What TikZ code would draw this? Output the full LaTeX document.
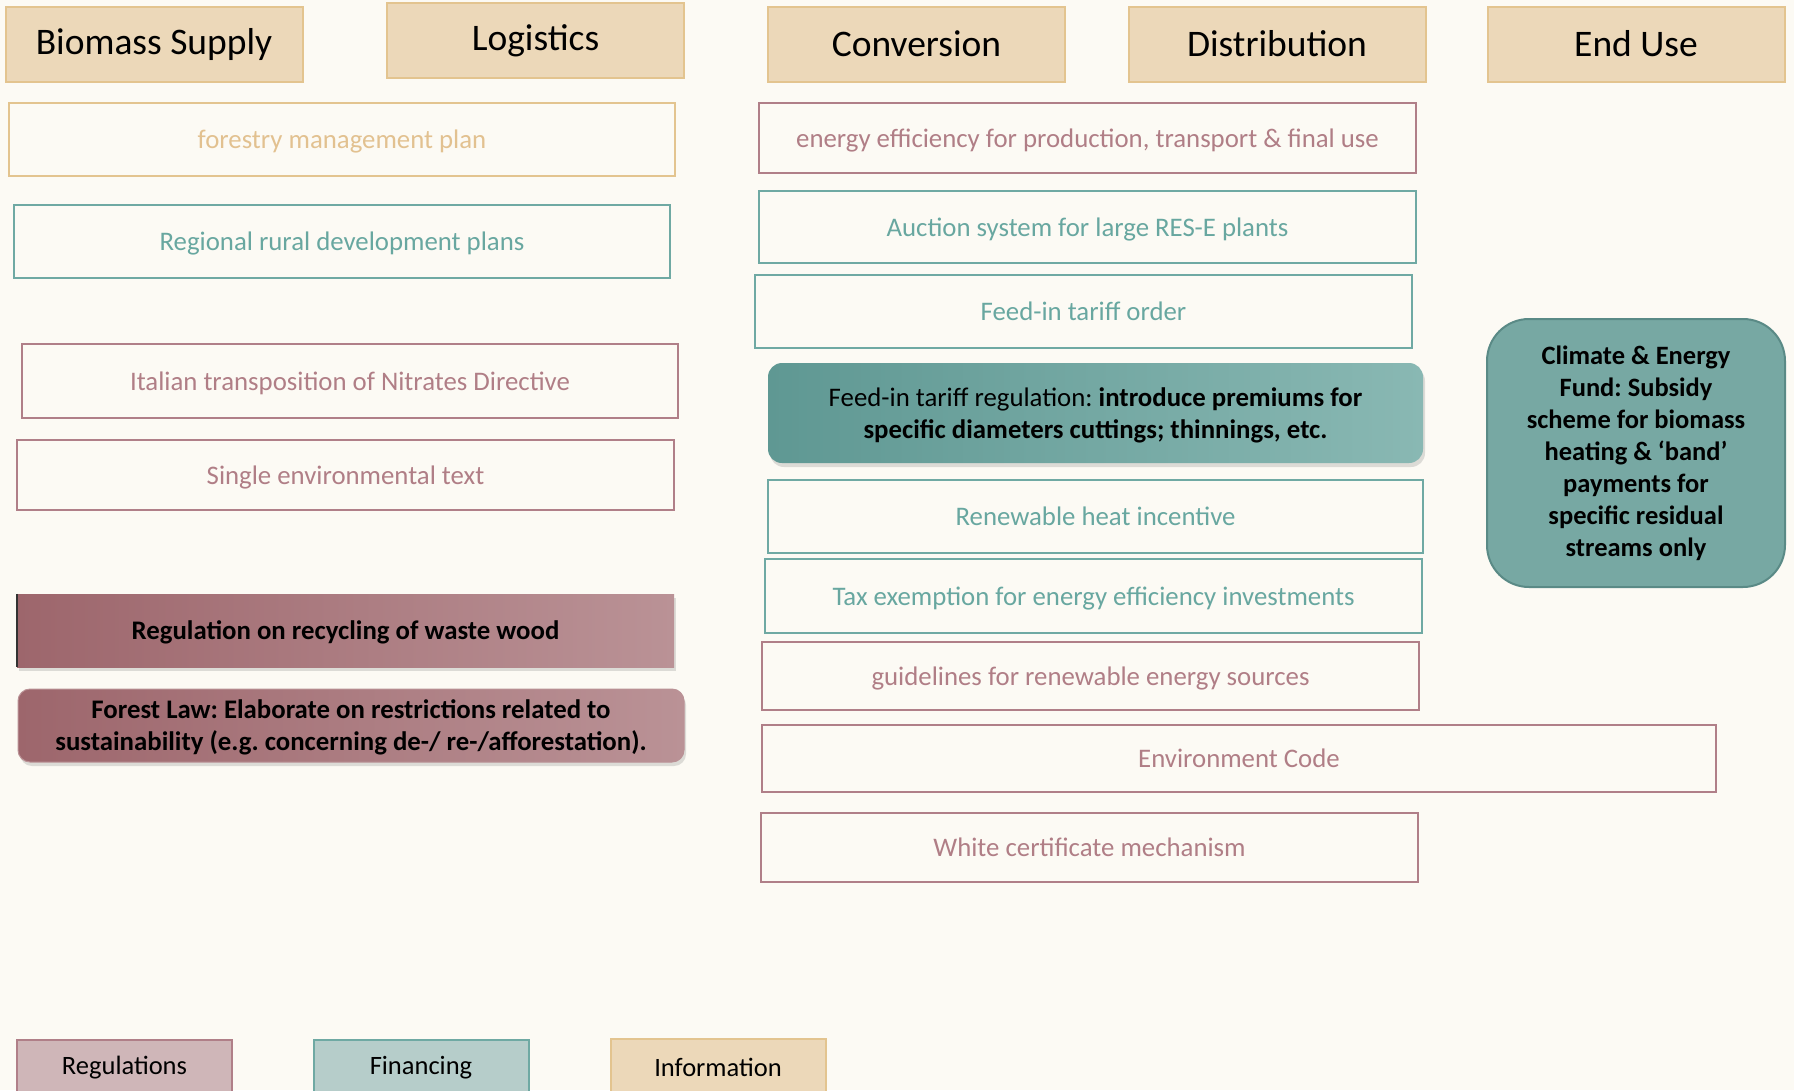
\documentclass[tikz,border=0pt]{standalone}
\usepackage{fontspec}
\setmainfont{Carlito}
\usetikzlibrary{shadows}
\definecolor{bgc}{HTML}{FCFAF4}
\definecolor{goldb}{HTML}{E3C48F}
\definecolor{goldt}{HTML}{E2C190}
\definecolor{headfill}{HTML}{ECD8B9}
\definecolor{roseb}{HTML}{B07F88}
\definecolor{roset}{HTML}{B07E86}
\definecolor{tealb}{HTML}{6FA9A3}
\definecolor{tealt}{HTML}{68A7A0}
\definecolor{regdark}{HTML}{9D666C}
\definecolor{reglight}{HTML}{BA9296}
\definecolor{tealdark}{HTML}{5F9893}
\definecolor{teallight}{HTML}{89B8B3}
\definecolor{cffill}{HTML}{77A8A3}
\definecolor{cfborder}{HTML}{5A8A86}
\definecolor{legreg}{HTML}{CFB6B8}
\definecolor{legfin}{HTML}{B6CDCA}
\tikzset{
  x=1pt,y=-1pt,
  box/.style={draw, line width=2pt, fill=bgc, inner sep=0pt, align=center,
    text depth=0pt, font=\fontsize{26.8}{32}\selectfont},
  headbox/.style={draw=goldb, line width=2pt, fill=headfill, inner sep=0pt,
    minimum width=297pt, minimum height=75pt, font=\fontsize{37.5}{42}\selectfont},
  goldbox/.style={box, draw=goldb, text=goldt},
  rosebox/.style={box, draw=roseb, text=roset},
  tealbox/.style={box, draw=tealb, text=tealt},
  regfill/.style={inner sep=0pt, align=center, left color=regdark, right color=reglight,
    text depth=0pt, font=\fontsize{26.8}{32}\selectfont\bfseries\frenchspacing,
    drop shadow={opacity=0.25, shadow xshift=2pt, shadow yshift=-4pt}},
  legbox/.style={draw, line width=2pt, inner sep=0pt, minimum width=215pt,
    minimum height=56pt, font=\fontsize{26.5}{30}\selectfont}
}
\begin{document}
\begin{tikzpicture}
\clip (0,0) rectangle (1794,1090);
\fill[bgc] (0,0) rectangle (1794,1090);
% headers
\node[headbox] (bs) at (154,44) {Biomass Supply};
\node[headbox] (lg) at (535.5,40.5) {Logistics};
\node[headbox] (cv) at (916.5,44) {Conversion};
\node[headbox] (ds) at (1277,44) {Distribution};
\node[headbox] (eu) at (1636,44) {End Use};
% left column
\node[goldbox, minimum width=666pt, minimum height=73pt] (fmp) at (342,139.5) {forestry management plan};
\node[tealbox, minimum width=656pt, minimum height=73pt] (rrd) at (342,241.5) {Regional rural development plans};
\node[rosebox, minimum width=656pt, minimum height=74pt] (itn) at (350,381) {Italian transposition of Nitrates Directive};
\node[rosebox, minimum width=657pt, minimum height=70pt] (set) at (345.5,475) {Single environmental text};
\node[regfill, minimum width=657pt, minimum height=73pt] (rrw) at (345.5,630.5) {Regulation on recycling of waste wood};
\draw[line width=2pt, black!80] (rrw.north west) -- (rrw.south west);
\node[regfill, rounded corners=12pt, draw=reglight, line width=1pt, minimum width=666pt, minimum height=73pt] (fl) at (351,725.5) {Forest Law: Elaborate on restrictions related to\\sustainability (e.g. concerning de-/ re-/afforestation).};
% right column
\node[rosebox, minimum width=657pt, minimum height=70pt] (ee) at (1087.5,138) {energy efficiency for production, transport \& final use};
\node[tealbox, minimum width=657pt, minimum height=72pt] (auc) at (1087.5,227) {Auction system for large RES-E plants};
\node[tealbox, minimum width=657pt, minimum height=73pt] (fito) at (1083.5,311.5) {Feed-in tariff order};
\node[inner sep=0pt, align=center, rounded corners=14pt, left color=tealdark, right color=teallight,
  drop shadow={opacity=0.25, shadow xshift=2pt, shadow yshift=-4pt}, text depth=0pt,
  font=\fontsize{26.8}{32}\selectfont\frenchspacing, minimum width=655pt, minimum height=100pt] (fitr) at (1095.5,413)
  {Feed-in tariff regulation: \textbf{introduce premiums for}\\\textbf{specific diameters cuttings; thinnings, etc.}};
\node[tealbox, minimum width=655pt, minimum height=73pt] (rhi) at (1095.5,516.5) {Renewable heat incentive};
\node[tealbox, minimum width=657pt, minimum height=74pt] (tax) at (1093.5,596) {Tax exemption for energy efficiency investments};
\node[rosebox, minimum width=657pt, minimum height=68pt] (gl) at (1090.5,676) {guidelines for renewable energy sources};
\node[rosebox, minimum width=954pt, minimum height=67pt] (ec) at (1239,758.5) {Environment Code};
\node[rosebox, minimum width=657pt, minimum height=69pt] (wc) at (1089.5,847.5) {White certificate mechanism};
% climate fund
\node[draw=cfborder, line width=2pt, fill=cffill, rounded corners=42pt, inner sep=0pt, align=center,
  minimum width=298pt, minimum height=268pt,
  font=\fontsize{26.5}{32}\selectfont\bfseries\frenchspacing] (cef) at (1636,453)
  {Climate \& Energy\\Fund: Subsidy\\scheme for biomass\\heating \& ‘band’\\payments for\\specific residual\\streams only};
% legend
\node[legbox, draw=roseb, fill=legreg] (lreg) at (124.5,1068) {Regulations};
\node[legbox, draw=tealb, fill=legfin] (lfin) at (421,1068) {Financing};
\node[legbox, draw=goldb, fill=headfill] (linf) at (718,1067) {Information};
\end{tikzpicture}
\end{document}
